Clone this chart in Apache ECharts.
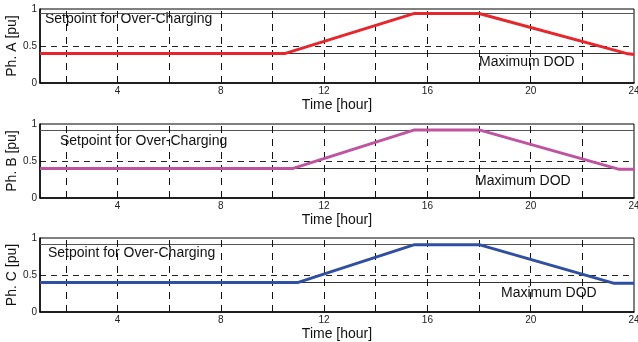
<!DOCTYPE html>
<html>
<head>
<meta charset="utf-8">
<script src="https://cdn.jsdelivr.net/npm/echarts@6/dist/echarts.min.js"></script>
<style>
  html, body { margin: 0; padding: 0; background: #fff; }
  #chart { width: 638px; height: 342px; }
</style>
</head>
<body>
<div id="chart"></div>
<script>
// Battery state of charge per phase over one day
const phaseNames = ['Ph. A [pu]', 'Ph. B [pu]', 'Ph. C [pu]'];
const phaseColors = ['#e8252b', '#c0529f', '#2f4fa2'];

const hoursA = [1, 10.5, 15.5, 18, 23.7, 24];
const socA   = [0.40, 0.40, 0.94, 0.94, 0.40, 0.385];
const hoursB = [1, 10.8, 15.5, 18, 23.4, 24];
const socB   = [0.40, 0.40, 0.92, 0.92, 0.39, 0.39];
const hoursC = [1, 11, 15.5, 18, 23.2, 24];
const socC   = [0.40, 0.40, 0.91, 0.91, 0.39, 0.39];

const setpoints = [0.94, 0.92, 0.91];   // over-charging setpoint per phase
const maxDOD = [0.40, 0.40, 0.40];      // maximum depth of discharge
const gridHours = [2, 4, 6, 8, 10, 12, 14, 16, 18, 20, 22];
const xTickLabels = [4, 8, 12, 16, 20, 24];
const yTickLabels = [0, 0.5, 1];

const hours = [hoursA, hoursB, hoursC];
const socs = [socA, socB, socC];

const gridTops = [9, 124, 238];
const gridHeight = 74;
const font = 'Liberation Sans, Arial, sans-serif';

const grids = gridTops.map(t => ({
  left: 40, right: 4, top: t, height: gridHeight,
  outerBoundsMode: 'none', containLabel: false,
  show: true, borderColor: '#000', borderWidth: 1, backgroundColor: 'transparent'
}));

const xAxes = gridTops.map((t, i) => ({
  type: 'value', gridIndex: i, min: 1, max: 24, interval: 1,
  name: 'Time [hour]', nameLocation: 'middle', nameGap: 15, nameMoveOverlap: false,
  nameTextStyle: { fontFamily: font, fontSize: 14, color: '#111', verticalAlign: 'top' },
  axisLine: { show: true, lineStyle: { color: '#000', width: 1.5 } },
  axisTick: { show: false },
  splitLine: { show: false },
  axisLabel: {
    fontFamily: font, fontSize: 10, color: '#222', margin: 3, showMinLabel: false,
    formatter: v => (xTickLabels.indexOf(v) >= 0 ? String(v) : '')
  }
}));

const yAxes = gridTops.map((t, i) => ({
  type: 'value', gridIndex: i, min: 0, max: 1, interval: 0.5,
  name: phaseNames[i], nameLocation: 'middle', nameGap: 21, nameRotate: 90, nameMoveOverlap: false,
  nameTextStyle: { fontFamily: font, fontSize: 14, color: '#111' },
  axisLine: { show: true, lineStyle: { color: '#000', width: 1.5 } },
  axisTick: { show: false },
  splitLine: { show: true, showMinLine: false, showMaxLine: false,
    lineStyle: { color: '#222', type: [6, 5], width: 1 } },
  axisLabel: {
    fontFamily: font, fontSize: 10, color: '#222', margin: 3,
    formatter: v => (yTickLabels.indexOf(v) >= 0 ? String(v) : '')
  }
}));

const series = [];
gridTops.forEach((t, i) => {
  // reference lines and vertical dashed grid
  series.push({
    type: 'line', xAxisIndex: i, yAxisIndex: i, data: [], silent: true,
    markLine: {
      symbol: 'none', silent: true, animation: false,
      label: { show: false },
      data: [
        { yAxis: setpoints[i], lineStyle: { color: '#555', type: 'solid', width: 1 } },
        { yAxis: maxDOD[i], lineStyle: { color: '#333', type: 'solid', width: 1 } }
      ].concat(gridHours.map(h => ({
        xAxis: h, lineStyle: { color: '#111', type: [7, 6], width: 1 }
      })))
    }
  });
  series.push({
    type: 'line', xAxisIndex: i, yAxisIndex: i,
    data: hours[i].map((h, k) => [h, socs[i][k]]),
    showSymbol: false, symbol: 'none', animation: false,
    lineStyle: { color: phaseColors[i], width: 3 },
    z: 5
  });
});

const textStyle = { fontFamily: font, fontSize: 14, fill: '#111' };
const graphic = [
  { type: 'text', left: 45, top: 12, style: Object.assign({ text: 'Setpoint for Over-Charging' }, textStyle) },
  { type: 'text', left: 479, top: 55, style: Object.assign({ text: 'Maximum DOD' }, textStyle) },
  { type: 'text', left: 60, top: 134, style: Object.assign({ text: 'Setpoint for Over-Charging' }, textStyle) },
  { type: 'text', left: 475, top: 174, style: Object.assign({ text: 'Maximum DOD' }, textStyle) },
  { type: 'text', left: 48, top: 246, style: Object.assign({ text: 'Setpoint for Over-Charging' }, textStyle) },
  { type: 'text', left: 501, top: 286, style: Object.assign({ text: 'Maximum DOD' }, textStyle) }
];

const chart = echarts.init(document.getElementById('chart'), null, { renderer: 'canvas' });
chart.setOption({
  animation: false,
  backgroundColor: '#fff',
  grid: grids,
  xAxis: xAxes,
  yAxis: yAxes,
  series: series,
  graphic: graphic
});
</script>
</body>
</html>
